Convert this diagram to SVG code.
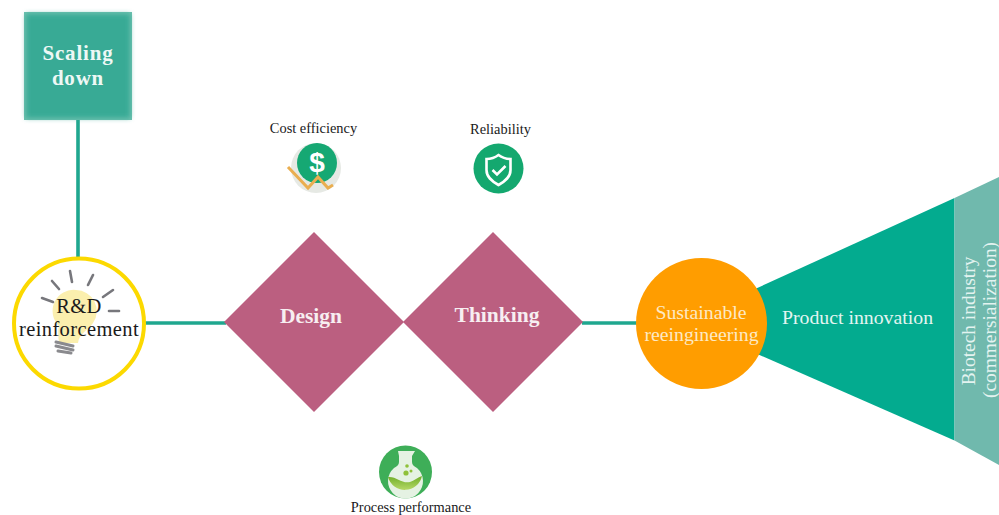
<svg xmlns="http://www.w3.org/2000/svg" width="999" height="515" viewBox="0 0 999 515">
<style>
text{font-family:"Liberation Serif","Times New Roman",serif;text-anchor:middle}
.lbl{font-size:14.4px;fill:#1a1a1a}
.con{stroke:#1fa78f;stroke-width:3.6;fill:none}
.dia{fill:#bb5f80}
.dt{font-size:21.500px;font-weight:bold;fill:#f7eef1}
.ray{stroke:#77777c;stroke-width:2.6;stroke-linecap:round}
.scr{stroke:#8a8a8e;stroke-width:3;stroke-linecap:round}
.sq{font-size:21px;font-weight:bold;fill:#eef8f5;letter-spacing:.8px}
.pi{font-size:19.800px;fill:#e3f5f1}
.bt{font-size:19.400px;fill:#e3f3f0}
.su{font-size:19.800px;fill:#fde9c4}
.rd{font-size:20.500px;fill:#1a1a1a;letter-spacing:.4px}
</style>
<defs>
<filter id="soft" x="-10%" y="-10%" width="120%" height="120%"><feGaussianBlur stdDeviation="2.500"/></filter>
<linearGradient id="liq" x1="0" y1="0" x2="0" y2="1"><stop offset="0" stop-color="#6fae28"/><stop offset="1" stop-color="#b5d868"/></linearGradient>
</defs>
<rect width="999" height="515" fill="#fff"/>
<g id="connectors">
<line class="con" x1="78" y1="118" x2="78" y2="258"/>
<line class="con" x1="145" y1="323" x2="226" y2="323"/>
<line class="con" x1="582" y1="323" x2="640" y2="323"/>
</g>
<g id="scaling-down">
<rect x="24" y="12" width="108" height="108" fill="#6cc0af"/>
<rect x="26" y="14" width="104" height="104" fill="#37aa95" filter="url(#soft)"/>
<text class="sq" x="78" y="60">Scaling</text>
<text class="sq" x="78" y="85">down</text>
</g>
<g id="rd-reinforcement">
<circle cx="79" cy="323.500" r="65" fill="#fff" stroke="#fcd900" stroke-width="4"/>
<path d="M76 290a21 21 0 0 1 17 33c-5 7-14 11-15 20h-19c-1-8-1-13-0-17a21 21 0 0 1 17-36z" fill="#fbefae"/>
<g class="ray">
<line x1="42" y1="298" x2="53" y2="302"/><line x1="52" y1="281" x2="59" y2="289"/><line x1="70" y1="271" x2="72" y2="282"/><line x1="93" y1="275" x2="88" y2="285"/><line x1="113" y1="290" x2="103" y2="297"/><line x1="119" y1="311" x2="109" y2="311"/>
</g>
<g class="scr">
<line x1="56" y1="342" x2="73" y2="346"/><line x1="56" y1="346" x2="73" y2="350"/><line x1="58" y1="351" x2="71" y2="353"/>
</g>
<text class="rd" x="79" y="313">R&amp;D</text>
<text class="rd" x="79" y="336">reinforcement</text>
</g>
<g id="design">
<polygon class="dia" points="314,232 404,322 314,412 224,322"/>
<text class="dt" x="311" y="323">Design</text>
</g>
<g id="thinking">
<polygon class="dia" points="493,232 583,322 493,412 403,322"/>
<text class="dt" x="497" y="322">Thinking</text>
</g>
<g id="cost-efficiency">
<text class="lbl" x="313.500" y="133">Cost efficiency</text>
<circle cx="316" cy="168" r="25" fill="#e6e9e4"/>
<circle cx="317" cy="163" r="20" fill="#16a873"/>
<text x="317" y="172" font-size="28" font-weight="bold" fill="#fff" style="font-family:'Liberation Sans',sans-serif">$</text>
<polyline points="288,167 308,188 318,177 328,188 333,185" fill="none" stroke="#eaae50" stroke-width="3"/>
</g>
<g id="reliability">
<text class="lbl" x="500.500" y="134">Reliability</text>
<circle cx="498.500" cy="168.500" r="25" fill="#14a86f"/>
<path d="M498.500 155c4 3 8 4 12 4v11c0 7-5 11-12 15c-7-4-12-8-12-15v-11c4 0 8-1 12-4z" fill="none" stroke="#fff" stroke-width="2.600"/>
<path d="M492.500 170l4.500 4.500 8.500-8.500" fill="none" stroke="#fff" stroke-width="2.600"/>
</g>
<g id="process-performance">
<circle cx="405.500" cy="472" r="26.500" fill="#3eae58"/>
<path d="M398 451h17l-3 5v6c0 3 2 4 5 6a17.500 17.500 0 1 1-23 0c3-2 5-3 5-6v-6z" fill="#e5f2e3"/>
<path d="M388 477c8-1 14 7 22 5c4-1 8-5 12-6a17.500 17.500 0 0 1-34 1z" fill="url(#liq)"/>
<circle cx="407" cy="466" r="1.800" fill="#8fc13a"/><circle cx="406" cy="473" r="2.600" fill="#8fc13a"/><circle cx="411" cy="471" r="1.500" fill="#8fc13a"/>
<text class="lbl" x="411" y="512">Process performance</text>
</g>
<g id="product-innovation">
<polygon points="755,289 954.500,198 954.500,440.500 755,353" fill="#03ab8f"/>
<text class="pi" x="857.500" y="324">Product innovation</text>
</g>
<g id="biotech-industry">
<polygon points="954.500,198 999,177 999,465 954.500,440.500" fill="#70b9ad"/>
<text class="bt" transform="translate(975 321) rotate(-90)">Biotech industry</text>
<text class="bt" transform="translate(995.500 320) rotate(-90)">(commersialization)</text>
</g>
<g id="sustainable-reengineering">
<circle cx="701.500" cy="323.500" r="65.500" fill="#ff9d00"/>
<text class="su" x="701" y="319">Sustainable</text>
<text class="su" x="701.500" y="341">reeingineering</text>
</g>
</svg>
